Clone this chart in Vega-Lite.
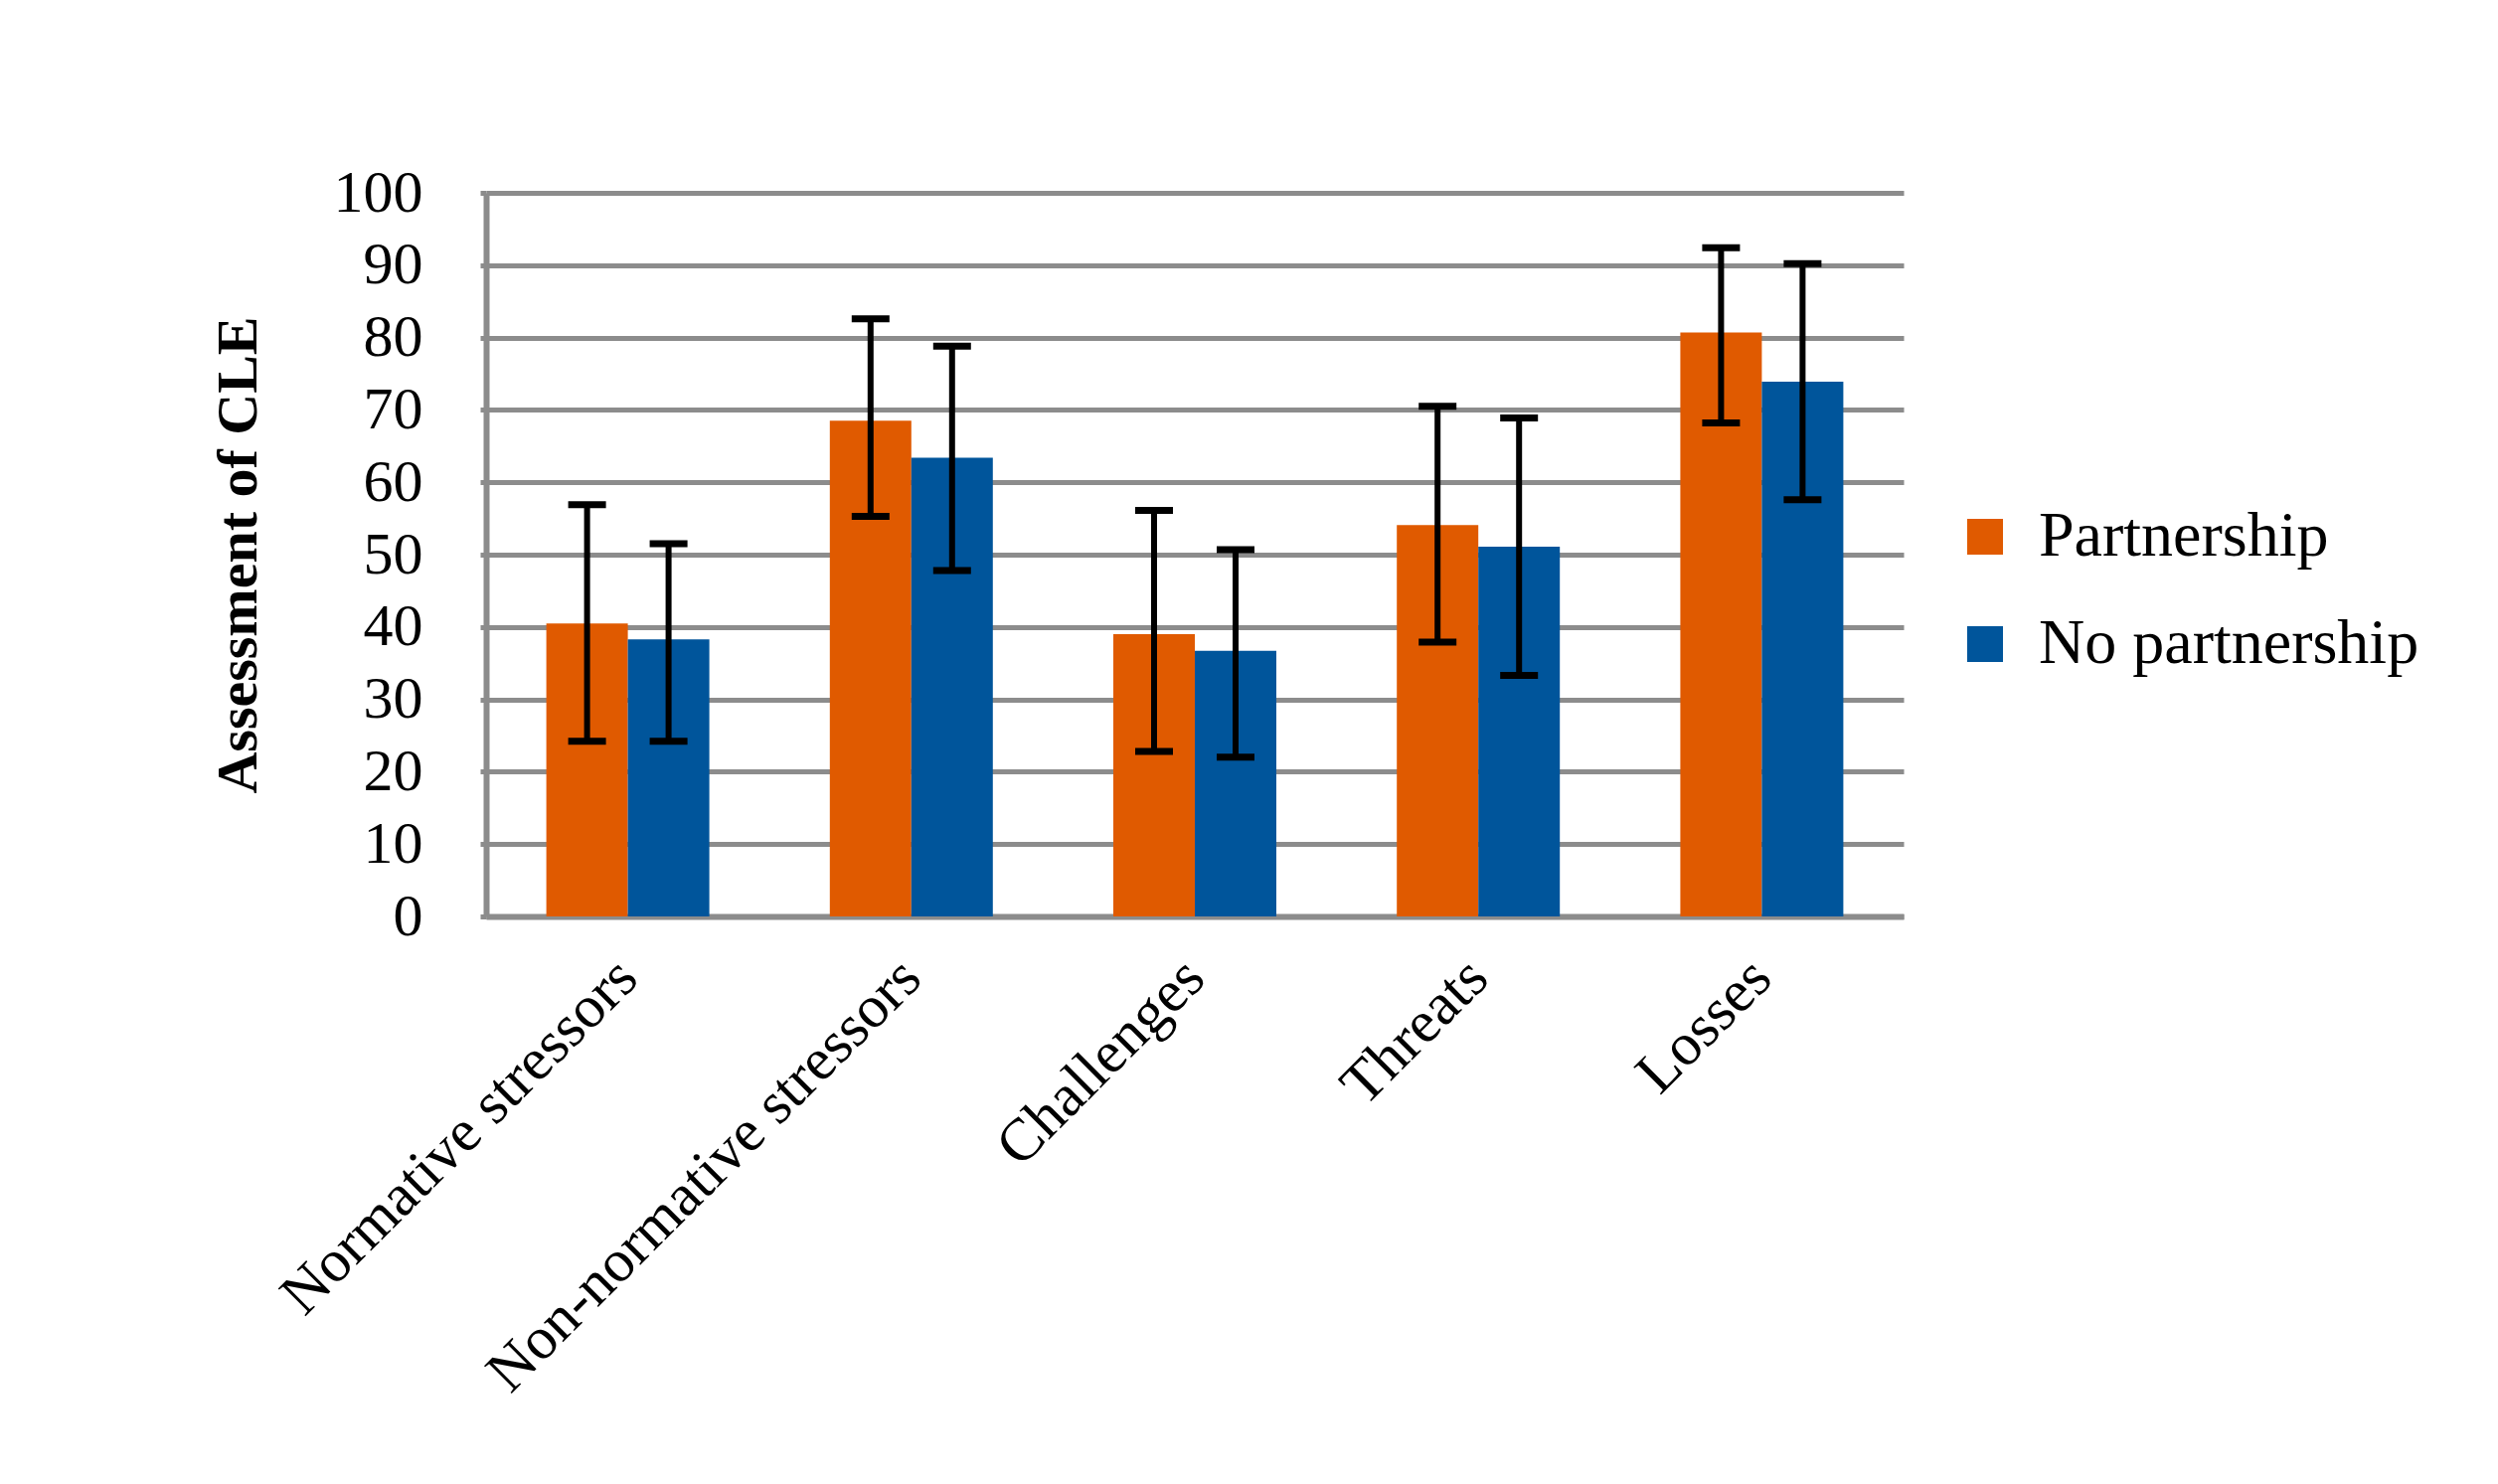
{
  "$schema": "https://vega.github.io/schema/vega-lite/v6.json",
  "autosize": "none",
  "width": 1426,
  "height": 728,
  "padding": {"left": 489, "top": 194, "right": 598, "bottom": 571},
  "background": "white",
  "data": {
    "values": [
      {"category": "Normative stressors", "group": "Partnership", "value": 40.5, "low": 24.2, "high": 56.9},
      {"category": "Normative stressors", "group": "No partnership", "value": 38.3, "low": 24.2, "high": 51.5},
      {"category": "Non-normative stressors", "group": "Partnership", "value": 68.5, "low": 55.3, "high": 82.6},
      {"category": "Non-normative stressors", "group": "No partnership", "value": 63.4, "low": 47.8, "high": 78.8},
      {"category": "Challenges", "group": "Partnership", "value": 39.0, "low": 22.8, "high": 56.1},
      {"category": "Challenges", "group": "No partnership", "value": 36.7, "low": 22.0, "high": 50.7},
      {"category": "Threats", "group": "Partnership", "value": 54.1, "low": 37.9, "high": 70.5},
      {"category": "Threats", "group": "No partnership", "value": 51.1, "low": 33.3, "high": 68.9},
      {"category": "Losses", "group": "Partnership", "value": 80.7, "low": 68.2, "high": 92.4},
      {"category": "Losses", "group": "No partnership", "value": 73.9, "low": 57.6, "high": 90.2}
    ]
  },
  "encoding": {
    "x": {
      "field": "category",
      "type": "nominal",
      "sort": null,
      "scale": {"paddingInner": 0.425, "paddingOuter": 0.2125},
      "axis": {
        "title": null,
        "labelAngle": -45,
        "labelAlign": "right",
        "labelBaseline": "middle",
        "labelPadding": 52,
        "labelLimit": 0,
        "ticks": false,
        "domainColor": "#8c8c8c",
        "domainWidth": 6
      }
    },
    "xOffset": {
      "field": "group",
      "type": "nominal",
      "sort": ["Partnership", "No partnership"],
      "scale": {"paddingInner": 0, "paddingOuter": 0}
    }
  },
  "layer": [
    {
      "mark": {"type": "bar"},
      "encoding": {
        "y": {
          "field": "value",
          "type": "quantitative",
          "scale": {"domain": [0, 100], "nice": false},
          "axis": {
            "title": "Assessment of CLE",
            "values": [0, 10, 20, 30, 40, 50, 60, 70, 80, 90, 100],
            "grid": true,
            "gridColor": "#8c8c8c",
            "gridWidth": 5,
            "gridOpacity": 1,
            "domainColor": "#8c8c8c",
            "domainWidth": 6,
            "tickColor": "#8c8c8c",
            "tickWidth": 5,
            "tickSize": 6,
            "labelPadding": 58,
            "titlePadding": 66
          }
        },
        "color": {
          "field": "group",
          "type": "nominal",
          "sort": ["Partnership", "No partnership"],
          "scale": {"domain": ["Partnership", "No partnership"], "range": ["#E05A00", "#00559B"]},
          "legend": {
            "title": null,
            "orient": "none",
            "legendX": 1476,
            "legendY": 314,
            "padding": 0,
            "symbolType": "square",
            "symbolSize": 1296,
            "symbolStrokeWidth": 0,
            "labelOffset": 22,
            "rowPadding": 44,
            "labelLimit": 0
          }
        }
      }
    },
    {
      "mark": {"type": "rule", "color": "black", "strokeWidth": 6},
      "encoding": {
        "y": {"field": "low", "type": "quantitative"},
        "y2": {"field": "high"}
      }
    },
    {
      "mark": {"type": "tick", "color": "black", "opacity": 1, "thickness": 7, "size": 38},
      "encoding": {
        "y": {"field": "low", "type": "quantitative"}
      }
    },
    {
      "mark": {"type": "tick", "color": "black", "opacity": 1, "thickness": 7, "size": 38},
      "encoding": {
        "y": {"field": "high", "type": "quantitative"}
      }
    }
  ],
  "config": {
    "font": "Liberation Serif",
    "view": {"stroke": null},
    "axis": {
      "labelFont": "Liberation Serif",
      "labelFontSize": 60,
      "labelColor": "black",
      "titleFont": "Liberation Serif",
      "titleFontSize": 58,
      "titleFontWeight": "bold",
      "titleColor": "black"
    },
    "legend": {
      "labelFont": "Liberation Serif",
      "labelFontSize": 64,
      "labelColor": "black"
    }
  }
}
